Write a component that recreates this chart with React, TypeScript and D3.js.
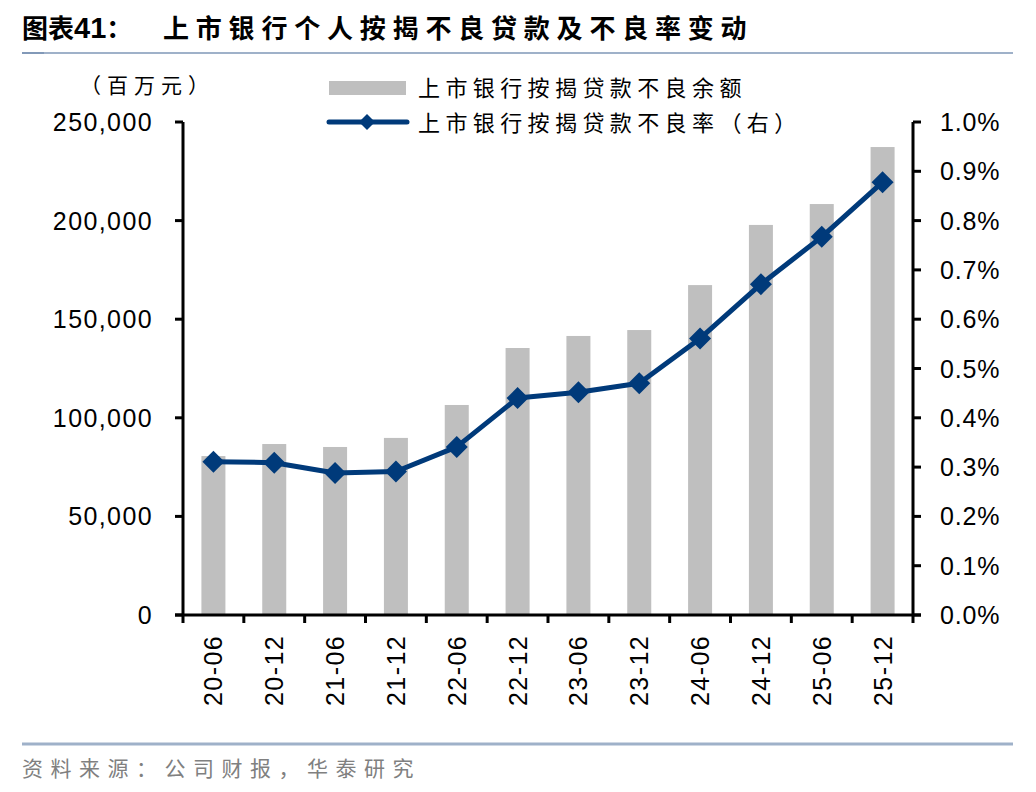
import React from "react";
import * as d3 from "d3";

const categories = ["20-06","20-12","21-06","21-12","22-06","22-12","23-06","23-12","24-06","24-12","25-06","25-12"];
const balances = [80600, 86700, 85200, 89800, 106500, 135400, 141500, 144500, 167300, 197800, 208400, 237300];
const rates = [0.311, 0.309, 0.288, 0.291, 0.341, 0.440, 0.452, 0.470, 0.561, 0.671, 0.767, 0.878];
const leftTicks = [0, 50000, 100000, 150000, 200000, 250000];
const rightTicks = [0, 0.1, 0.2, 0.3, 0.4, 0.5, 0.6, 0.7, 0.8, 0.9, 1.0];

const W = 1036, H = 792;
const plot = { left: 183, right: 913, top: 122, bottom: 615 };
const barColor = "#bfbfbf";
const lineColor = "#003a7a";
const cjk = "'Noto Sans CJK SC', sans-serif";
const latin = "'Liberation Sans', Arial, sans-serif";

export default function App() {
  const xb = d3.scaleBand<string>().domain(categories).range([plot.left, plot.right]);
  const yL = d3.scaleLinear().domain([0, 250000]).range([plot.bottom, plot.top]);
  const yR = d3.scaleLinear().domain([0, 1.0]).range([plot.bottom, plot.top]);
  const fmt = d3.format(",");
  const line = d3.line<number>().x((_, i) => xb(categories[i])! + xb.bandwidth() / 2).y((d) => yR(d));
  const diamond = (cx: number, cy: number, r: number) => `M${cx},${cy - r}L${cx + r},${cy}L${cx},${cy + r}L${cx - r},${cy}Z`;
  const bw = 24;

  return (
    <svg width={W} height={H} style={{ position: "absolute", left: 0, top: 0 }}>
      <rect width={W} height={H} fill="#fff" />
      {/* Title */}
      <text x={22} y={38} fontFamily={cjk} fontWeight={700} fontSize={26} fill="#000">
        <tspan>图表</tspan>
        <tspan fontFamily={latin} fontWeight={700} fontSize={29}>41</tspan>
        <tspan>：</tspan>
        <tspan x={163} letterSpacing={6.8}>上市银行个人按揭不良贷款及不良率变动</tspan>
      </text>
      <line x1={22} x2={1013} y1={53} y2={53} stroke="#9fb1c9" strokeWidth={2} />
      <line x1={22} x2={44} y1={53} y2={53} stroke="#8299b8" strokeWidth={2} />

      {/* unit */}
      <text x={80} y={93} fontFamily={cjk} fontSize={21} letterSpacing={6} fill="#000">（百万元）</text>

      {/* legend */}
      <rect x={329} y={81} width={77} height={14} fill={barColor} />
      <text x={418} y={96} fontFamily={cjk} fontSize={22} letterSpacing={5.4} fill="#000">上市银行按揭贷款不良余额</text>
      <line x1={329} x2={407} y1={122} y2={122} stroke={lineColor} strokeWidth={5} strokeLinecap="round" />
      <path d={diamond(367, 122, 8)} fill={lineColor} />
      <text x={418} y={131} fontFamily={cjk} fontSize={22} letterSpacing={5.4} fill="#000">上市银行按揭贷款不良率（右）</text>

      {/* bars */}
      {balances.map((v, i) => {
        const c = xb(categories[i])! + xb.bandwidth() / 2;
        return <rect key={i} x={c - bw / 2} y={yL(v)} width={bw} height={plot.bottom - yL(v)} fill={barColor} />;
      })}

      {/* line */}
      <path d={line(rates)!} fill="none" stroke={lineColor} strokeWidth={5} strokeLinejoin="round" />
      {rates.map((v, i) => {
        const c = xb(categories[i])! + xb.bandwidth() / 2;
        return <path key={i} d={diamond(c, yR(v), 11)} fill={lineColor} />;
      })}

      {/* left axis */}
      <line x1={plot.left} x2={plot.left} y1={plot.top} y2={plot.bottom} stroke="#000" strokeWidth={3} />
      {leftTicks.map((t) => (
        <g key={t}>
          <line x1={plot.left - 8} x2={plot.left} y1={yL(t)} y2={yL(t)} stroke="#000" strokeWidth={3} />
          <text x={153} y={yL(t) + 9} textAnchor="end" fontFamily={latin} fontSize={25} letterSpacing={1.4} fill="#000">{fmt(t)}</text>
        </g>
      ))}

      {/* right axis */}
      <line x1={plot.right} x2={plot.right} y1={plot.top} y2={plot.bottom} stroke="#000" strokeWidth={3} />
      {rightTicks.map((t) => (
        <g key={t}>
          <line x1={plot.right} x2={plot.right + 8} y1={yR(t)} y2={yR(t)} stroke="#000" strokeWidth={3} />
          <text x={940} y={yR(t) + 9} fontFamily={latin} fontSize={25} letterSpacing={0.8} fill="#000">{t.toFixed(1) + "%"}</text>
        </g>
      ))}

      {/* x axis */}
      <line x1={plot.left - 8} x2={plot.right + 8} y1={plot.bottom} y2={plot.bottom} stroke="#000" strokeWidth={3} />
      {categories.map((c, i) => (
        <line key={"t" + i} x1={xb(c)!} x2={xb(c)!} y1={plot.bottom} y2={plot.bottom + 8} stroke="#000" strokeWidth={3} />
      ))}
      <line x1={plot.right} x2={plot.right} y1={plot.bottom} y2={plot.bottom + 8} stroke="#000" strokeWidth={3} />
      {categories.map((c) => {
        const cx = xb(c)! + xb.bandwidth() / 2 + 9;
        const ty = 635;
        return (
          <text key={c} transform={`translate(${cx},${ty}) rotate(-90)`} textAnchor="end" fontFamily={latin} fontSize={25} letterSpacing={1.4} fill="#000">{c}</text>
        );
      })}

      {/* footer */}
      <line x1={22} x2={1013} y1={744} y2={744} stroke="#9fb1c9" strokeWidth={3} />
      <text x={22} y={776} fontFamily={cjk} fontSize={21} letterSpacing={7.5} fill="#808080">资料来源：公司财报，华泰研究</text>
    </svg>
  );
}
